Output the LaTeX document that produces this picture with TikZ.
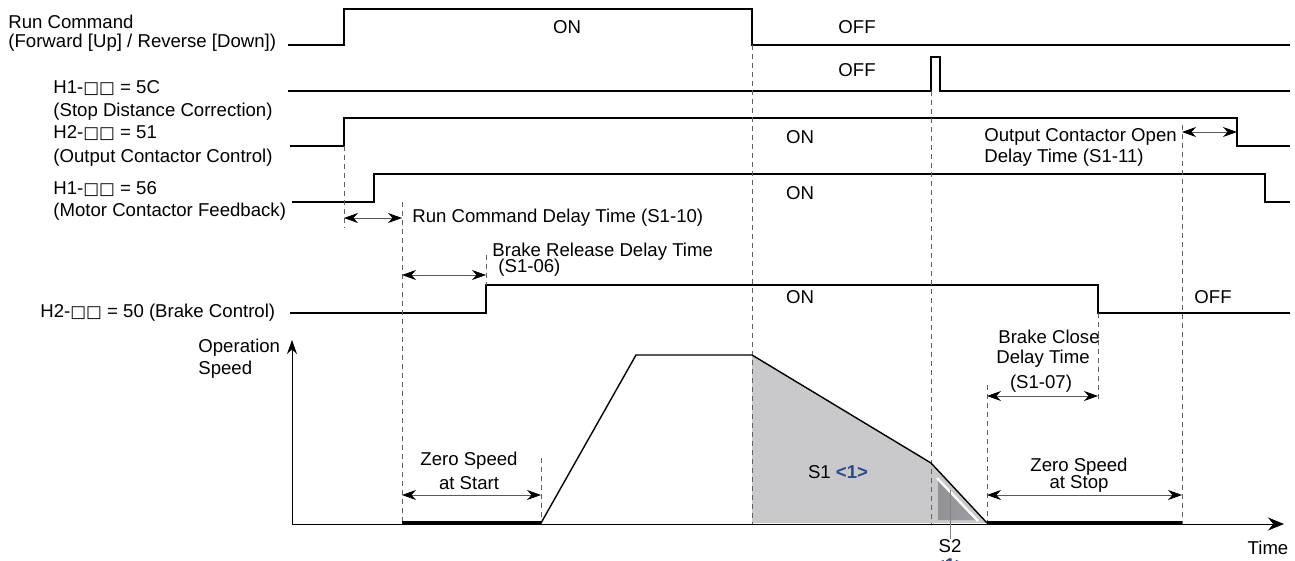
\documentclass[tikz,border=0pt]{standalone}
\usepackage{fontspec}
\setmainfont{Liberation Sans}
\newfontfamily\symfont[Scale=0.9]{DejaVu Sans}
\usetikzlibrary{arrows.meta}

\definecolor{areafill}{HTML}{C9C9CB}
\definecolor{notefill}{HTML}{9C9CA8}
\definecolor{noteblue}{HTML}{2B4A8A}

% parameter placeholder boxes
\newcommand{\parbx}{{\symfont □□}}

\begin{document}
\begin{tikzpicture}[x=0.5pt,y=-0.5pt,
  font=\fontsize{9.3}{10.8}\selectfont,
  sig/.style={line width=0.7pt},
  guide/.style={gray!75!black, line width=0.4pt, dash pattern=on 2.5pt off 2pt},
  dim/.style={gray!70!black, line width=0.4pt,
    {Stealth[length=7pt,width=5pt,color=black]}-{Stealth[length=7pt,width=5pt,color=black]}},
  zerospd/.style={line width=2pt},
  lbl/.style={inner sep=0pt, anchor=west},
  mid/.style={inner sep=0pt}]

\useasboundingbox (0,0) rectangle (1295,561);

% Signal names
\node[lbl] (runa) at (8,22) {Run Command};
\node[lbl] (runb) at (8,43) {(Forward [Up] / Reverse [Down])};
\node[lbl] (sdca) at (53,88) {H1-\parbx{} = 5C};
\node[lbl] (sdcb) at (53,112) {(Stop Distance Correction)};
\node[lbl] (occa) at (53,133) {H2-\parbx{} = 51};
\node[lbl] (occb) at (53,158) {(Output Contactor Control)};
\node[lbl] (mcfa) at (53,189) {H1-\parbx{} = 56};
\node[lbl] (mcfb) at (53,212) {(Motor Contactor Feedback)};
\node[lbl] (brk) at (40,313) {H2-\parbx{} = 50 (Brake Control)};
\node[lbl] (opa) at (198,348) {Operation};
\node[lbl] (opb) at (198,370) {Speed};

% Waveforms
\draw[sig] (288,45) -- (344,45) -- (344,9) -- (752,9) -- (752,45) -- (1290,45);
\draw[sig] (288,91) -- (931,91) -- (931,57) -- (940,57) -- (940,91) -- (1290,91);
\draw[sig] (290,146) -- (344,146) -- (344,118) -- (1237,118) -- (1237,146) -- (1290,146);
\draw[sig] (292,202) -- (374,202) -- (374,174) -- (1265,174) -- (1265,202) -- (1290,202);
\draw[sig] (290,313) -- (486,313) -- (486,285) -- (1098,285) -- (1098,313) -- (1290,313);

% ON / OFF
\node[mid] (on1) at (567,27) {ON};
\node[mid] (off1) at (857,27) {OFF};
\node[mid] (off2) at (857,70) {OFF};
\node[mid] (on3) at (800,137) {ON};
\node[mid] (on4) at (800,193) {ON};
\node[mid] (on5) at (800,297) {ON};
\node[mid] (off5) at (1213,297) {OFF};

% Shaded areas
\fill[areafill] (752,523) -- (752,355) -- (931,463) -- (986,523) -- cycle;
\shade[left color=gray!85, right color=notefill] (938,480) -- (938,520) -- (977,520) -- cycle;
\draw[white, line width=1.2pt] (937,478) -- (978,521);

% Guides
\draw[guide] (344,146) -- (344,228);
\draw[guide] (402,202) -- (402,524);
\draw[guide] (486,255) -- (486,285);
\draw[guide] (541,458) -- (541,524);
\draw[guide] (752,45) -- (752,524);
\draw[guide] (931,91) -- (931,524);
\draw[guide] (987,385) -- (987,524);
\draw[guide] (1098,313) -- (1098,400);
\draw[guide] (1182,125) -- (1182,524);

% Speed axes
\draw[line width=0.5pt, -{Stealth[length=7pt,width=5pt]}] (292,524) -- (292,340);
\draw[line width=0.5pt, -{Stealth[length=8pt,width=6.5pt]}] (292,524) -- (1284,524);
\node[mid] (time) at (1268,548) {Time};

% Speed profile
\draw[zerospd] (402,523) -- (541,523);
\draw[zerospd] (987,523) -- (1182,523);
\draw[sig] (541,523) -- (636,355) -- (752,355) -- (931,463) -- (987,523);

\node[mid] (sone) at (838,472) {S1 \textcolor{noteblue}{\bfseries <1>}};
\node[mid] (stwo) at (950,546) {S2};
\node[mid, text=noteblue, font=\fontsize{9.3}{10.8}\selectfont\bfseries] (stwonote) at (950,565) {<1>};
\coordinate (stwotop) at (950,490);
\draw[gray, line width=0.4pt] (stwotop) -- (stwo.north);

% Delay times
\coordinate (rcA) at (344,218); \coordinate (rcB) at (402,218);
\coordinate (brA) at (402,275); \coordinate (brB) at (486,275);
\coordinate (zsA) at (402,495); \coordinate (zsB) at (541,495);
\coordinate (bcA) at (987,396); \coordinate (bcB) at (1098,396);
\coordinate (ztA) at (987,495); \coordinate (ztB) at (1182,495);
\coordinate (ocA) at (1182,132); \coordinate (ocB) at (1237,132);
\draw[dim] (rcA) -- (rcB);
\draw[dim] (brA) -- (brB);
\draw[dim] (zsA) -- (zsB);
\draw[dim] (bcA) -- (bcB);
\draw[dim] (ztA) -- (ztB);
\draw[dim] (ocA) -- (ocB);

\node[lbl] (rcdelay) at (412,218) {Run Command Delay Time (S1-10)};
\node[lbl] (brdelaya) at (492,252) {Brake Release Delay Time};
\node[lbl] (brdelayb) at (498,268) {(S1-06)};
\node[mid] (zsa) at (469,461) {Zero Speed};
\node[mid] (zsb) at (469,483) {at Start};
\node[mid] (bca) at (1049,337) {Brake Close};
\node[mid] (bcb) at (1043,359) {Delay Time};
\node[mid] (bcc) at (1041,384) {(S1-07)};
\node[mid] (zta) at (1079,467) {Zero Speed};
\node[mid] (ztb) at (1079,484) {at Stop};
\node[lbl] (oca) at (984,137) {Output Contactor Open};
\node[lbl] (ocb) at (984,158) {Delay Time (S1-11)};

\end{tikzpicture}
\end{document}
